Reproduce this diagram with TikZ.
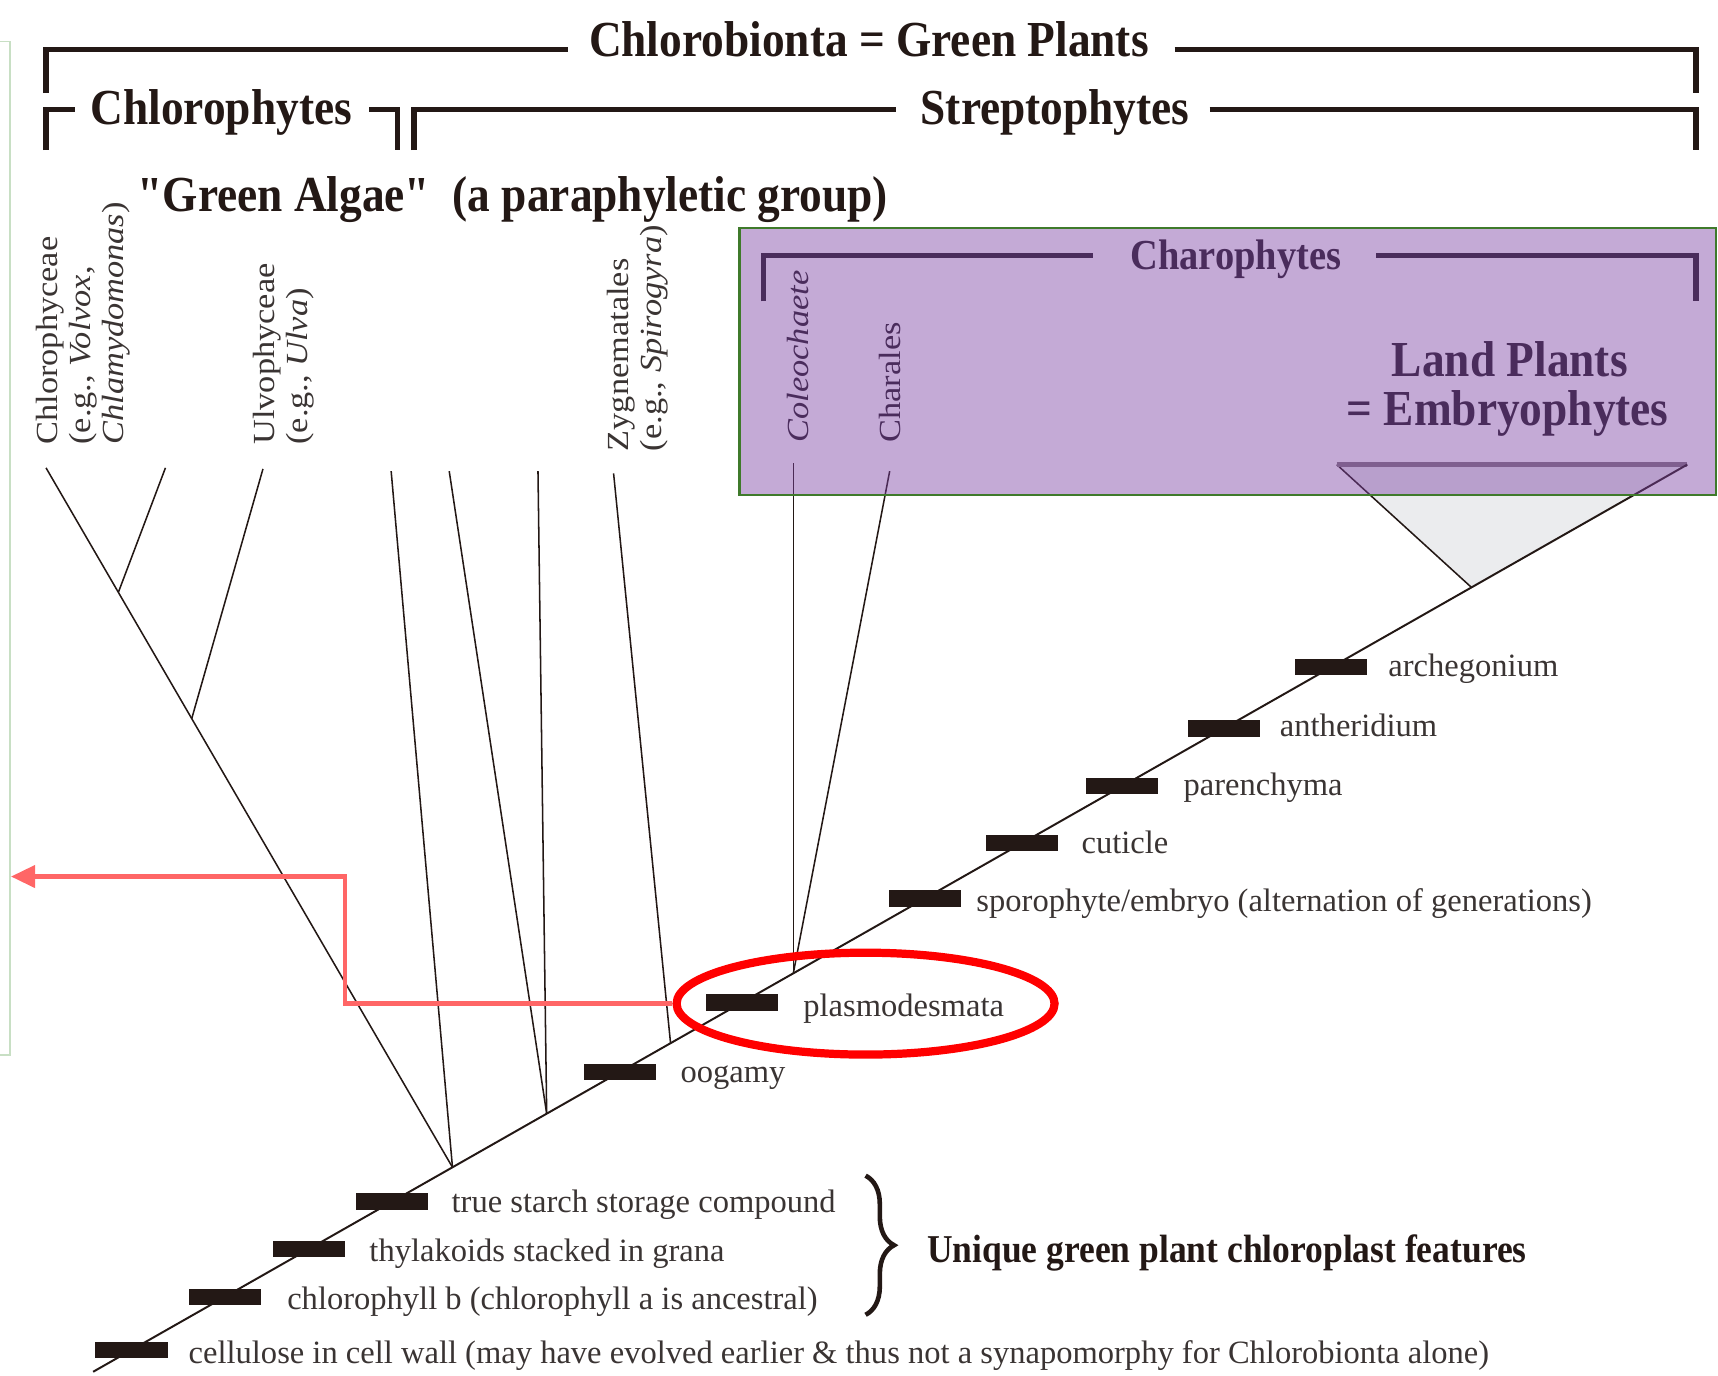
\documentclass[tikz,border=0pt]{standalone}
\usepackage{fontspec}
\setmainfont{Liberation Serif}
\newfontfamily\hdfont[FakeStretch=0.9]{Liberation Serif}
\newfontfamily\vlfont[FakeStretch=1.12]{Liberation Serif}
\usetikzlibrary{shapes.geometric,arrows.meta,decorations.pathreplacing,calc}
\definecolor{ink}{HTML}{231815}
\definecolor{ftext}{HTML}{3A3433}
\definecolor{pur}{HTML}{4A2C5C}
\definecolor{boxfill}{RGB}{124,66,164}
\definecolor{boxedge}{HTML}{3F7A2B}
\definecolor{salmon}{HTML}{FF6666}
\definecolor{frameg}{HTML}{C8DFC4}
\definecolor{lpgrey}{HTML}{EBECEE}
\definecolor{lpedge}{RGB}{130,119,126}
\begin{document}
\begin{tikzpicture}[x=1pt,y=-1pt,
  brk/.style={line width=5pt, draw=ink, line cap=butt, line join=miter},
  pbrk/.style={line width=5pt, draw=pur, line cap=butt, line join=miter},
  tree/.style={draw=ink, line width=1.4pt},
  trunk/.style={draw=ink, line width=1.8pt},
  bar/.style={fill=ink, draw=none, minimum width=66pt, minimum height=15pt, inner sep=0pt},
  hd/.style={font=\hdfont\bfseries\fontsize{46}{50}\selectfont, text=ink, inner sep=0pt, anchor=base},
  ft/.style={font=\fontsize{29.7}{32}\selectfont, text=ftext, anchor=west, inner sep=0pt, text height=20pt, text depth=6pt},
  vl/.style={font=\vlfont\fontsize{28}{30}\selectfont, text=ftext, rotate=90, anchor=west, align=left, inner sep=0pt}
]
\useasboundingbox (0,0) rectangle (1568,1255);
% left frame
\draw[frameg, line width=1.2pt] (0,38) -- (9,38) -- (9,963) -- (0,963);

% coordinates of the tree
\coordinate (root) at (85,1252);
\coordinate (TR) at (1540,424);
\coordinate (LPl) at (1220,424);
\coordinate (A) at ($(root)!0.2254!(TR)$);
\coordinate (B) at ($(root)!0.2845!(TR)$);
\coordinate (C) at ($(root)!0.3622!(TR)$);
\coordinate (D) at ($(root)!0.4392!(TR)$);
\coordinate (apex) at ($(root)!0.8646!(TR)$);
\coordinate (t1) at (42,427);
\coordinate (t2) at (151,427);
\coordinate (t3) at (240,428);
\coordinate (t4) at (357,430);
\coordinate (t5) at (410,430);
\coordinate (t6) at (491,430);
\coordinate (t7) at (560,432);
\coordinate (t8) at (D |- 0,423);
\coordinate (t9) at (812,430);
\coordinate (j1) at ($(t1)!0.178!(A)$);
\coordinate (j2) at ($(t1)!0.3585!(A)$);

% land plant triangle
\fill[lpgrey] (LPl) -- (TR) -- (apex) -- cycle;
\draw[tree] (LPl) -- (apex);
\draw[lpedge, line width=5pt] (LPl) -- (TR);

% branches
\draw[trunk] (root) -- (TR);
\draw[tree] (t1) -- (A);
\draw[tree] (t2) -- (j1);
\draw[tree] (t3) -- (j2);
\draw[tree] (t4) -- (A);
\draw[tree] (t5) -- (B);
\draw[tree] (t6) -- (B);
\draw[tree] (t7) -- (C);
\draw[tree] (t8) -- (D);
\draw[tree] (t9) -- (D);

% synapomorphy bars
\path (root) -- (TR)
  node[bar, pos=0.024] (b1) {}
  node[bar, pos=0.0825] (b2) {}
  node[bar, pos=0.1354] (b3) {}
  node[bar, pos=0.1876] (b4) {}
  node[bar, pos=0.3306] (b5) {}
  node[bar, pos=0.4069] (b6) {}
  node[bar, pos=0.5216] (b7) {}
  node[bar, pos=0.5828] (b8) {}
  node[bar, pos=0.6454] (b9) {}
  node[bar, pos=0.7093] (b10) {}
  node[bar, pos=0.7766] (b11) {};

% charophyte box
\fill[boxfill, fill opacity=0.45] (675,208) rectangle (1566,452);
\draw[boxedge, line width=2pt] (675,208) rectangle (1566,452);

% brackets
\draw[brk] (42,85) -- (42,45) -- (518,45);
\draw[brk] (1072,45) -- (1548,45) -- (1548,85);
\draw[brk] (42,137) -- (42,100) -- (68,100);
\draw[brk] (337,100) -- (363,100) -- (363,137);
\draw[brk] (378,137) -- (378,100) -- (818,100);
\draw[brk] (1104,100) -- (1548,100) -- (1548,137);
\draw[pbrk] (697,275) -- (697,233) -- (998,233);
\draw[pbrk] (1256,233) -- (1548,233) -- (1548,275);

% headings
\node[hd] (cb) at (793,52) {Chlorobionta = Green Plants};
\node[hd] (cp) at (202,114) {Chlorophytes};
\node[hd] (sp) at (963,114) {Streptophytes};
\node[hd] (ga) at (468,193) {"Green Algae"\ \ (a paraphyletic group)};
\node[hd, font=\hdfont\bfseries\fontsize{39}{42}\selectfont, text=pur] (chp) at (1128,246) {Charophytes};
\node[hd, text=pur] (lp1) at (1378,344) {Land Plants};
\node[hd, text=pur] (lp2) at (1376,388) {= Embryophytes};
\node[hd, font=\hdfont\bfseries\fontsize{36}{40}\selectfont, anchor=base west] (uq) at (846,1152) {Unique green plant chloroplast features};

% vertical taxon labels
\node[vl] (chl) at (76,406) {Chlorophyceae\\(e.g., \textit{Volvox},\\\textit{Chlamydomonas})};
\node[vl] (ulv) at (259,406) {Ulvophyceae\\(e.g., \textit{Ulva})};
\node[vl] (zyg) at (582,412) {Zygnematales\\(e.g., \textit{Spirogyra})};
\node[vl, text=pur] (col) at (728,404) {\textit{Coleochaete}};
\node[vl, text=pur] (cha) at (812,404) {Charales};

% feature labels
\node[ft] (l11) at (1267,610) {archegonium};
\node[ft] (l10) at (1168,665) {antheridium};
\node[ft] (l9) at (1080,719) {parenchyma};
\node[ft] (l8) at (987,772) {cuticle};
\node[ft] (l7) at (891,825) {sporophyte/embryo (alternation of generations)};
\node[ft] (l6) at (733,921) {plasmodesmata};
\node[ft] (l5) at (621,981) {oogamy};
\node[ft] (l4) at (412,1100) {true starch storage compound};
\node[ft] (l3) at (337,1144) {thylakoids stacked in grana};
\node[ft] (l2) at (262,1188) {chlorophyll b (chlorophyll a is ancestral)};
\node[ft] (l1) at (172,1237) {cellulose in cell wall (may have evolved earlier \& thus not a synapomorphy for Chlorobionta alone)};

% brace
\draw[ink, line width=4.2pt, decorate, decoration={brace, amplitude=26pt}] (790,1073) -- (790,1200);

% red annotation
\node[ellipse, draw=red, line width=7.5pt, minimum width=345pt, minimum height=93pt, inner sep=0pt] (circ) at (790,916) {};
\coordinate (elbow) at (315,916);
\coordinate (arrtip) at (10,800);
\draw[salmon, line width=4pt, line join=miter, -{Triangle[length=22pt,width=20pt]}] (circ.west) -- (elbow) |- (arrtip);
\end{tikzpicture}
\end{document}
